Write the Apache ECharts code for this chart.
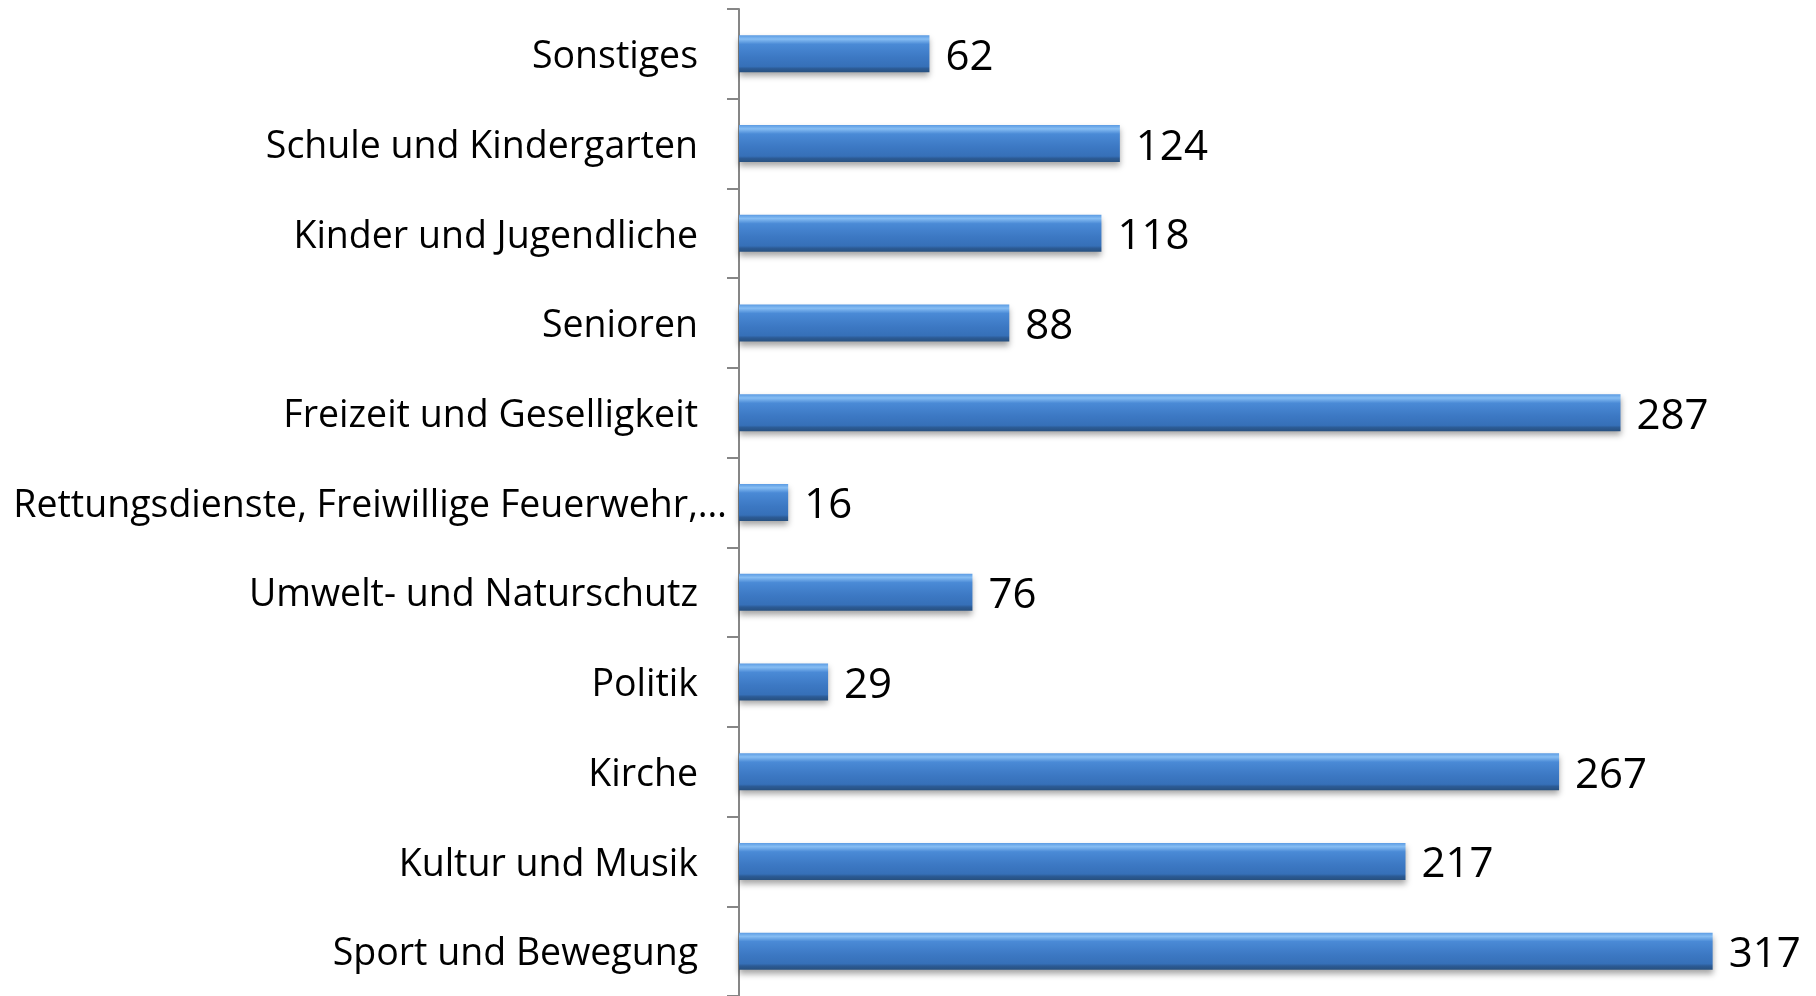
<!DOCTYPE html>
<html>
<head>
<meta charset="utf-8">
<script src="https://cdn.jsdelivr.net/npm/echarts@6/dist/echarts.min.js"></script>
<style>
  html, body { margin: 0; padding: 0; background: #fff; }
  #barChart { width: 1816px; height: 996px; }
</style>
</head>
<body>
<div id="barChart"></div>
<script>
// Kategorien von oben nach unten
var categories = [
  'Sonstiges',
  'Schule und Kindergarten',
  'Kinder und Jugendliche',
  'Senioren',
  'Freizeit und Geselligkeit',
  'Rettungsdienste, Freiwillige Feuerwehr,…',
  'Umwelt- und Naturschutz',
  'Politik',
  'Kirche',
  'Kultur und Musik',
  'Sport und Bewegung'
];
var counts = [62, 124, 118, 88, 287, 16, 76, 29, 267, 217, 317];

var chart = echarts.init(document.getElementById('barChart'));
chart.setOption({
  backgroundColor: '#ffffff',
  animation: false,
  grid: {
    left: 739,
    top: 9,
    width: 1075,
    height: 990
  },
  xAxis: {
    type: 'value',
    min: 0,
    max: 350,
    show: false
  },
  yAxis: {
    type: 'category',
    inverse: true,
    data: categories,
    axisLine: {
      lineStyle: { color: '#868686', width: 2 }
    },
    axisTick: {
      show: true,
      length: 12,
      lineStyle: { color: '#868686', width: 2 }
    },
    axisLabel: {
      margin: 12,
      color: '#000',
      fontFamily: 'Open Sans',
      fontSize: 37.5,
      formatter: function (v) {
        // der lange Text reicht naeher an die Achse heran
        return v.indexOf('…') >= 0 ? '{l|' + v + '}' : '{n|' + v + '}';
      },
      rich: {
        n: { fontFamily: 'Open Sans', fontSize: 37.5, color: '#000', padding: [7, 29, 0, 0] },
        l: { fontFamily: 'Open Sans', fontSize: 37.5, color: '#000', padding: [7, 0, 0, 0] }
      }
    }
  },
  series: [{
    type: 'bar',
    data: counts,
    barWidth: 37,
    itemStyle: {
      color: new echarts.graphic.LinearGradient(0, 0, 0, 1, [
        { offset: 0, color: '#5b9be3' },
        { offset: 0.1, color: '#86bdf3' },
        { offset: 0.24, color: '#4a8ad6' },
        { offset: 0.6, color: '#3c78c3' },
        { offset: 0.84, color: '#3670b8' },
        { offset: 0.9, color: '#2c5b95' },
        { offset: 1, color: '#27507f' }
      ]),
      shadowColor: 'rgba(0, 0, 0, 0.35)',
      shadowBlur: 6,
      shadowOffsetY: 4
    },
    label: {
      show: true,
      position: 'right',
      distance: 16,
      offset: [0, 4],
      color: '#000',
      fontFamily: 'Open Sans',
      fontSize: 42
    }
  }]
});
</script>
</body>
</html>
